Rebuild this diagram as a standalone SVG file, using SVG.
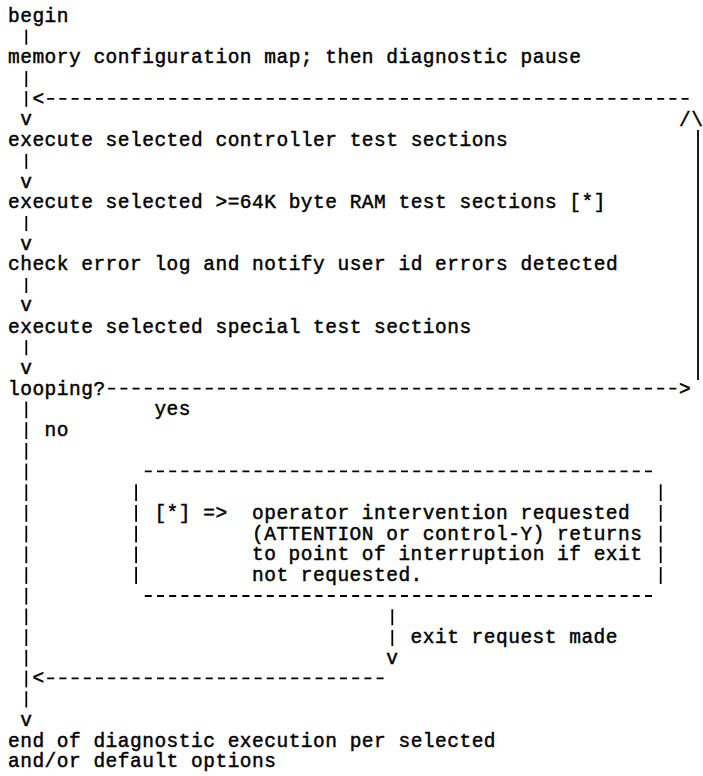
<svg xmlns="http://www.w3.org/2000/svg" width="703" height="776" viewBox="0 0 703 776">
<style>
text{font-family:"Liberation Mono","DejaVu Sans Mono",monospace;font-size:19.5px;letter-spacing:0.5px;fill:#000;stroke:#000;stroke-width:0.45;white-space:pre}
.bar{stroke:#000;stroke-width:1.8;fill:none}
.dash{stroke:#000;stroke-width:1.8;stroke-dasharray:7 5.2;fill:none}
</style>
<rect width="703" height="776" fill="#fff"/>
<g id="connectors">
  <line class="bar" x1="26.3" y1="29.7" x2="26.3" y2="44.7"/>
  <line class="bar" x1="26.3" y1="71.1" x2="26.3" y2="87.1"/>
  <line class="bar" x1="26.3" y1="91.1" x2="26.3" y2="106.8"/>
  <text x="32.4" y="104.8">&lt;</text>
  <line class="dash" x1="47.2" y1="98.8" x2="690" y2="98.8"/>
  <text x="20.2" y="125">v</text>
  <text x="679" y="125.5">/\</text>
  <line class="bar" x1="698" y1="130" x2="698" y2="380"/>
  <line class="bar" x1="26.3" y1="153.9" x2="26.3" y2="168.9"/>
  <text x="20.2" y="187.6">v</text>
  <line class="bar" x1="26.3" y1="216" x2="26.3" y2="231"/>
  <text x="20.2" y="249.7">v</text>
  <line class="bar" x1="26.3" y1="278.1" x2="26.3" y2="293.1"/>
  <text x="20.2" y="311.3">v</text>
  <line class="bar" x1="26.3" y1="340.2" x2="26.3" y2="355.2"/>
  <text x="20.2" y="373.9">v</text>
  <line class="dash" x1="108.2" y1="388.6" x2="676.4" y2="388.6"/>
  <text x="679" y="394.6">&gt;</text>
  <line class="bar" x1="26.3" y1="401.5" x2="26.3" y2="418.3"/>
  <line class="bar" x1="26.3" y1="422.2" x2="26.3" y2="439"/>
  <line class="bar" x1="26.3" y1="442.9" x2="26.3" y2="459.7"/>
  <line class="bar" x1="26.3" y1="463.6" x2="26.3" y2="480.4"/>
  <line class="bar" x1="26.3" y1="484.3" x2="26.3" y2="501.1"/>
  <line class="bar" x1="26.3" y1="505" x2="26.3" y2="521.8"/>
  <line class="bar" x1="26.3" y1="525.7" x2="26.3" y2="542.5"/>
  <line class="bar" x1="26.3" y1="546.4" x2="26.3" y2="563.2"/>
  <line class="bar" x1="26.3" y1="567.1" x2="26.3" y2="583.9"/>
  <line class="bar" x1="26.3" y1="587.8" x2="26.3" y2="604.6"/>
  <line class="bar" x1="26.3" y1="608.5" x2="26.3" y2="625.3"/>
  <line class="bar" x1="26.3" y1="629.2" x2="26.3" y2="646"/>
  <line class="bar" x1="26.3" y1="649.9" x2="26.3" y2="666.7"/>
  <line class="bar" x1="26.3" y1="670.6" x2="26.3" y2="687.4"/>
  <line class="bar" x1="26.3" y1="691.3" x2="26.3" y2="707.5"/>
  <text x="20.2" y="725.8">v</text>
  <text x="154.4" y="415.3">yes</text>
  <text x="44.6" y="436">no</text>
  <line class="bar" x1="392.3" y1="609.3" x2="392.3" y2="625.3"/>
  <line class="bar" x1="392.3" y1="630" x2="392.3" y2="646"/>
  <text x="410.6" y="643">exit request made</text>
  <text x="386.2" y="663.7">v</text>
  <text x="32.4" y="684.4">&lt;</text>
  <line class="dash" x1="47.2" y1="678.4" x2="383.6" y2="678.4"/>
</g>
<g id="n-begin"><text x="8" y="22">begin</text></g>
<g id="n-memory"><text x="8" y="63.4">memory configuration map; then diagnostic pause</text></g>
<g id="n-controller"><text x="8" y="146.4">execute selected controller test sections</text></g>
<g id="n-ram"><text x="8" y="208.3">execute selected &gt;=64K byte RAM test sections [*]</text></g>
<g id="n-check"><text x="8" y="270.4">check error log and notify user id errors detected</text></g>
<g id="n-special"><text x="8" y="332.7">execute selected special test sections</text></g>
<g id="n-looping"><text x="8" y="394.6">looping?</text></g>
<g id="n-note">
  <line class="dash" x1="144.8" y1="471.4" x2="652" y2="471.4"/>
  <line class="dash" x1="144.8" y1="596" x2="652" y2="596"/>
  <line class="bar" x1="136.1" y1="484.3" x2="136.1" y2="501.1"/>
  <line class="bar" x1="136.1" y1="505" x2="136.1" y2="521.8"/>
  <line class="bar" x1="136.1" y1="525.7" x2="136.1" y2="542.5"/>
  <line class="bar" x1="136.1" y1="546.4" x2="136.1" y2="563.2"/>
  <line class="bar" x1="136.1" y1="567.1" x2="136.1" y2="583.9"/>
  <line class="bar" x1="660.7" y1="484.3" x2="660.7" y2="501.1"/>
  <line class="bar" x1="660.7" y1="505" x2="660.7" y2="521.8"/>
  <line class="bar" x1="660.7" y1="525.7" x2="660.7" y2="542.5"/>
  <line class="bar" x1="660.7" y1="546.4" x2="660.7" y2="563.2"/>
  <line class="bar" x1="660.7" y1="567.1" x2="660.7" y2="583.9"/>
  <text x="154.4" y="518.8">[*] =&gt;  operator intervention requested</text>
  <text x="252" y="539.5">(ATTENTION or control-Y) returns</text>
  <text x="252" y="560">to point of interruption if exit</text>
  <text x="252" y="581.2">not requested.</text>
</g>
<g id="n-end">
  <text x="8" y="746.5">end of diagnostic execution per selected</text>
  <text x="8" y="767.2">and/or default options</text>
</g>
</svg>
